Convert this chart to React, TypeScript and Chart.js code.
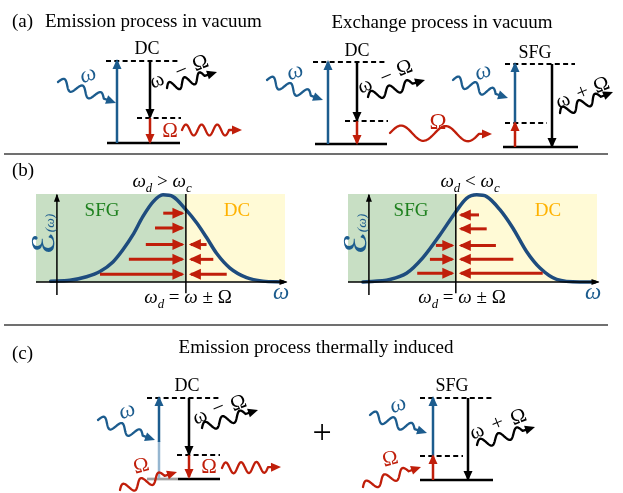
import React, { useEffect, useRef } from 'react';
import { Chart, registerables } from 'chart.js';

Chart.register(...registerables);

const W = 623;
const H = 493;
const SERIF = '"Liberation Serif", "Times New Roman", serif';
const BLUE = 'rgb(28,92,142)';
const RED = 'rgb(192,30,10)';
const BLACK = '#000000';
const NAVY = 'rgb(30,76,126)';
const SEP_GRAY = 'rgb(112,112,112)';
const GREEN_BG = 'rgb(200,223,196)';
const YELLOW_BG = 'rgb(255,250,214)';
const GREEN_TXT = 'rgb(30,128,30)';
const ORANGE_TXT = 'rgb(255,178,0)';
const FADED_BLUE = 'rgb(150,182,208)';
const FADED_GRAY = 'rgb(160,160,160)';
const COL: Record<string, string> = { b: BLUE, k: BLACK, r: RED };

// ---------------- panel (b): spectrum  ℰ(ω) versus ω ----------------
const omegaMin = -0.84;
const omegaMax = 9.16;
const fieldMax = 1.01;
const omegaLeft = [-0.25, 0.52, 1.19, 1.73, 2.25, 2.65, 3.05, 3.45, 3.86, 4.26, 4.66, 5.18, 5.61, 6.01, 6.41, 6.95, 7.62, 8.27, 9.08];
const fieldLeft = [0.01, 0.02, 0.06, 0.12, 0.23, 0.37, 0.54, 0.75, 0.92, 1.0, 0.98, 0.83, 0.68, 0.51, 0.33, 0.16, 0.05, 0.01, 0.0];
const omegaRight = [-0.24, 0.84, 1.51, 2.17, 2.85, 3.45, 3.92, 4.33, 4.73, 5.26, 5.78, 6.33, 6.87, 7.54, 8.47, 9.08];
const fieldRight = [0.0, 0.03, 0.1, 0.28, 0.54, 0.79, 0.96, 1.0, 0.98, 0.83, 0.62, 0.35, 0.16, 0.03, 0.0, 0.0];
const omegaDLeft = 5.18;
const omegaDRight = 3.49;
const arrowRowsLeft = [0.79, 0.62, 0.43, 0.26, 0.09];
const sfgStartsLeft = [4.27, 3.94, 3.57, 2.89, 1.73];
const dcStartsLeft = [null, null, 6.01, 6.28, 6.82];
const arrowRowsRight = [0.77, 0.61, 0.42, 0.26, 0.1];
const sfgStartsRight = [null, null, 2.69, 2.45, 1.94];
const dcStartsRight = [4.42, 4.73, 5.1, 5.8, 6.98];

// ---------------- panels (a), (c): level diagrams ----------------
// [x1, x2, y]
const separators = [[4, 608, 154], [4, 608, 325]];
const virtualLevels = [
  [106, 180, 61], [137, 181, 118],
  [313, 387, 62], [345, 388, 121],
  [505, 575, 64], [505, 547, 123],
  [147, 220, 398], [177, 220, 455],
  [420, 492, 398], [420, 463, 456],
];
const groundLevels = [[107, 180, 143], [315, 387, 144], [503, 578, 147], [178, 220, 479], [420, 493, 480]];
const fadedGround = [[147, 178, 479]];
// [x, yFrom, yTo, colour]
const transitions = [
  [117, 143, 61, 'b'], [150, 61, 117, 'k'], [150, 118, 142, 'r'],
  [328, 144, 62, 'b'], [357, 62, 120, 'k'], [357, 121, 143, 'r'],
  [515, 123, 64, 'b'], [515, 147, 123, 'r'], [552, 64, 146, 'k'],
  [159, 442, 398, 'b'], [189, 398, 454, 'k'], [189, 455, 477, 'r'],
  [433, 456, 398, 'b'], [433, 480, 456, 'r'], [468, 398, 479, 'k'],
];
const fadedTransitions = [[159, 478, 441]];
// photons: [x1, y1, x2, y2, periods, amplitude, colour]
const photons = [
  [58, 82, 116, 103, 2.5, 5, 'b'],
  [167, 88, 217, 72, 2.5, 5, 'k'],
  [182, 130, 242, 130, 3, 5.5, 'r'],
  [267, 80, 323, 100, 2.5, 5, 'b'],
  [368, 97, 425, 80, 2.5, 5, 'k'],
  [390, 133, 492, 134, 2, 7.5, 'r'],
  [453, 80, 508, 98, 2.5, 5, 'b'],
  [560, 113, 613, 92, 2.5, 5, 'k'],
  [98, 420, 155, 440, 2.5, 5, 'b'],
  [202, 428, 258, 410, 2.5, 5, 'k'],
  [222, 468, 281, 467, 3, 5.5, 'r'],
  [120, 490, 177, 472, 2.5, 5, 'r'],
  [370, 415, 427, 433, 2.5, 5, 'b'],
  [477, 445, 535, 427, 2.5, 5, 'k'],
  [363, 487, 421, 467, 2.5, 5, 'r'],
];

type Run = { t: string; it?: boolean; bold?: boolean; sub?: boolean; scale?: number; fam?: string };
type Label = { x: number; y: number; size: number; color: string; runs: Run[]; align?: 'left' | 'center'; rot?: number; center?: boolean };
const R = (t: string, o: Partial<Run> = {}): Run => ({ t, ...o });
const wI = (o: Partial<Run> = {}) => R('ω', { it: true, ...o });

const titleLabels: Label[] = [
  { x: 12, y: 27, size: 19, color: BLACK, runs: [R('(a)')], align: 'left' },
  { x: 45, y: 27, size: 19, color: BLACK, runs: [R('Emission process in vacuum')], align: 'left' },
  { x: 442, y: 28, size: 19, color: BLACK, runs: [R('Exchange process in vacuum')] },
  { x: 12, y: 176, size: 19, color: BLACK, runs: [R('(b)')], align: 'left' },
  { x: 12, y: 359, size: 19, color: BLACK, runs: [R('(c)')], align: 'left' },
  { x: 316, y: 353, size: 19, color: BLACK, runs: [R('Emission process thermally induced')] },
];
const levelLabels: Label[] = [
  { x: 147, y: 54, size: 18, color: BLACK, runs: [R('DC')] },
  { x: 357, y: 56, size: 18, color: BLACK, runs: [R('DC')] },
  { x: 535, y: 58, size: 18, color: BLACK, runs: [R('SFG')] },
  { x: 187, y: 391, size: 18, color: BLACK, runs: [R('DC')] },
  { x: 452, y: 391, size: 18, color: BLACK, runs: [R('SFG')] },
  { x: 322, y: 432, size: 34, color: BLACK, runs: [R('+')], center: true },
];
const photonLabels: Label[] = [
  // incoming pump photons
  ...[[88, 75], [295, 72], [483, 72], [127, 411], [398, 405]].map(([x, y]) => ({ x, y, size: 23, color: BLUE, runs: [wI()], rot: -18, center: true })),
  // outgoing photons ω − Ω / ω + Ω
  ...[
    [157, 81, 'ω'], [181, 70, '−'], [200, 62, 'Ω'],
    [365, 86, 'ω'], [386, 76, '−'], [404, 67, 'Ω'],
    [563, 101, 'ω'], [582, 91, '+'], [601, 84, 'Ω'],
    [200, 417, 'ω'], [218, 407, '−'], [238, 402, 'Ω'],
    [477, 432, 'ω'], [497, 422, '+'], [518, 416, 'Ω'],
  ].map(([x, y, t]) => ({ x: x as number, y: y as number, size: 21, color: BLACK, runs: [R(t as string)], rot: -22, center: true })),
  // Ω photons
  { x: 170, y: 130, size: 21, color: RED, runs: [R('Ω')], center: true },
  { x: 438, y: 121, size: 23, color: RED, runs: [R('Ω')], center: true },
  { x: 209, y: 466, size: 21, color: RED, runs: [R('Ω')], center: true },
  { x: 141, y: 465, size: 21, color: RED, runs: [R('Ω')], rot: -15, center: true },
  { x: 390, y: 458, size: 21, color: RED, runs: [R('Ω')], rot: -15, center: true },
];
const spectrumLabels: Label[] = [
  { x: 162, y: 187, size: 19, color: BLACK, runs: [wI(), R('d', { it: true, sub: true }), R(' > '), wI(), R('c', { it: true, sub: true })] },
  { x: 470, y: 187, size: 19, color: BLACK, runs: [wI(), R('d', { it: true, sub: true }), R(' < '), wI(), R('c', { it: true, sub: true })] },
  { x: 102, y: 216, size: 19, color: GREEN_TXT, runs: [R('SFG')] },
  { x: 237, y: 216, size: 19, color: ORANGE_TXT, runs: [R('DC')] },
  { x: 411, y: 216, size: 19, color: GREEN_TXT, runs: [R('SFG')] },
  { x: 548, y: 216, size: 19, color: ORANGE_TXT, runs: [R('DC')] },
  { x: 281, y: 293, size: 23, color: BLUE, runs: [wI()], center: true },
  { x: 593, y: 293, size: 23, color: BLUE, runs: [wI()], center: true },
  { x: 188, y: 303, size: 19, color: BLACK, runs: [wI(), R('d', { it: true, sub: true }), R(' = '), wI(), R(' ± Ω')] },
  { x: 462, y: 303, size: 19, color: BLACK, runs: [wI(), R('d', { it: true, sub: true }), R(' = '), wI(), R(' ± Ω')] },
  ...[43, 355].map((x) => ({ x, y: 234, size: 30, color: BLUE, rot: -90, center: true, runs: [R('ℰ', { bold: true, fam: '"DejaVu Serif", "DejaVu Sans", serif' }), R('(ω)', { it: true, scale: 0.45 })] })),
];

// ---------------- helpers ----------------
function drawHead(ctx: CanvasRenderingContext2D, x1: number, y1: number, x2: number, y2: number, len: number, wid: number, ext: number, color: string) {
  const a = Math.atan2(y2 - y1, x2 - x1);
  ctx.save();
  ctx.translate(x2, y2);
  ctx.rotate(a);
  ctx.beginPath();
  ctx.moveTo(ext, 0);
  ctx.lineTo(ext - len, wid / 2);
  ctx.lineTo(ext - len, -wid / 2);
  ctx.closePath();
  ctx.fillStyle = color;
  ctx.fill();
  ctx.restore();
}

const arrowHeadPlugin = {
  id: 'arrowHeads',
  afterDatasetsDraw(chart: any) {
    const ctx = chart.ctx;
    chart.data.datasets.forEach((ds: any, i: number) => {
      if (!ds.head) return;
      const pts = chart.getDatasetMeta(i).data;
      const n = pts.length;
      const p1 = pts[n - 2];
      const p2 = pts[n - 1];
      drawHead(ctx, p1.x, p1.y, p2.x, p2.y, ds.head[0], ds.head[1], ds.head[2], ds.borderColor);
    });
  },
};

function drawWave(ctx: CanvasRenderingContext2D, x1: number, y1: number, x2: number, y2: number, periods: number, amp: number, color: string) {
  const dx = x2 - x1;
  const dy = y2 - y1;
  const L = Math.hypot(dx, dy);
  const ux = dx / L;
  const uy = dy / L;
  const nx = uy;
  const ny = -ux;
  const headLen = 9;
  const lead = 4;
  const waveLen = L - headLen - lead;
  ctx.save();
  ctx.strokeStyle = color;
  ctx.lineWidth = 2.3;
  ctx.lineJoin = 'round';
  ctx.lineCap = 'round';
  ctx.beginPath();
  const N = 90;
  for (let i = 0; i <= N; i++) {
    const s = (i / N) * waveLen;
    const o = amp * Math.sin(2 * Math.PI * periods * (i / N));
    const px = x1 + ux * s + nx * o;
    const py = y1 + uy * s + ny * o;
    if (i === 0) ctx.moveTo(px, py);
    else ctx.lineTo(px, py);
  }
  ctx.lineTo(x1 + ux * (L - headLen + 1), y1 + uy * (L - headLen + 1));
  ctx.stroke();
  ctx.restore();
  drawHead(ctx, x1, y1, x2, y2, headLen + 1, 9, 0, color);
}

const wavePlugin = {
  id: 'photons',
  afterDatasetsDraw(chart: any) {
    const xs = chart.scales.x;
    const ys = chart.scales.y;
    photons.forEach(([x1, y1, x2, y2, p, a, c]) => {
      drawWave(chart.ctx, xs.getPixelForValue(x1), ys.getPixelForValue(y1), xs.getPixelForValue(x2), ys.getPixelForValue(y2), p as number, a as number, COL[c as string]);
    });
  },
};

function drawLabel(ctx: CanvasRenderingContext2D, L: Label, px: number, py: number) {
  ctx.save();
  ctx.translate(px, py);
  if (L.rot) ctx.rotate((L.rot * Math.PI) / 180);
  ctx.fillStyle = L.color;
  ctx.textBaseline = 'alphabetic';
  const fontOf = (r: Run) => `${r.it ? 'italic ' : ''}${r.bold ? 'bold ' : ''}${(L.size * (r.sub ? 0.68 : r.scale || 1)).toFixed(1)}px ${r.fam || SERIF}`;
  const widths = L.runs.map((r) => {
    ctx.font = fontOf(r);
    return ctx.measureText(r.t).width;
  });
  const total = widths.reduce((a, b) => a + b, 0);
  let x = L.align === 'left' ? 0 : -total / 2;
  let dy = 0;
  if (L.center) {
    ctx.font = fontOf(L.runs[0]);
    const m = ctx.measureText(L.runs[0].t);
    dy = (m.actualBoundingBoxAscent - m.actualBoundingBoxDescent) / 2;
  }
  L.runs.forEach((r, i) => {
    ctx.font = fontOf(r);
    ctx.fillText(r.t, x, dy + (r.sub ? L.size * 0.24 : 0));
    x += widths[i];
  });
  ctx.restore();
}

const textPlugin = {
  id: 'texts',
  afterDraw(chart: any) {
    const xs = chart.scales.x;
    const ys = chart.scales.y;
    [...titleLabels, ...levelLabels, ...photonLabels, ...spectrumLabels].forEach((L) => {
      drawLabel(chart.ctx, L, xs.getPixelForValue(L.x), ys.getPixelForValue(L.y));
    });
  },
};

const seg = (pts: number[][], color: string, width: number, extra: any = {}) => ({
  data: pts.map(([x, y]) => ({ x, y })),
  borderColor: color,
  backgroundColor: color,
  borderWidth: width,
  borderCapStyle: 'butt',
  pointRadius: 0,
  pointHoverRadius: 0,
  showLine: true,
  fill: false,
  clip: false,
  tension: 0,
  ...extra,
});

function mainConfig(): any {
  const datasets = [
    ...transitions.map(([x, f, t, c]) => seg([[x as number, f as number], [x as number, t as number]], COL[c as string], 2.5, { head: [10, 9, 2] })),
    ...fadedTransitions.map(([x, f, t]) => seg([[x, f], [x, t]], FADED_BLUE, 2.5)),
    ...groundLevels.map(([a, b, y]) => seg([[a, y], [b, y]], BLACK, 2.7)),
    ...fadedGround.map(([a, b, y]) => seg([[a, y], [b, y]], FADED_GRAY, 2.7)),
    ...virtualLevels.map(([a, b, y]) => seg([[a, y], [b, y]], BLACK, 2, { borderDash: [5, 3.3] })),
    ...separators.map(([a, b, y]) => seg([[a, y], [b, y]], SEP_GRAY, 2)),
  ];
  return {
    type: 'scatter',
    data: { datasets },
    options: {
      animation: false,
      responsive: false,
      events: [],
      layout: { padding: 0 },
      plugins: { legend: { display: false }, tooltip: { enabled: false }, title: { display: false } },
      scales: {
        x: { type: 'linear', min: 0, max: W, display: false },
        y: { type: 'linear', min: 0, max: H, reverse: true, display: false },
      },
    },
    plugins: [arrowHeadPlugin, wavePlugin, textPlugin],
  };
}

function plotConfig(omega: number[], field: number[], omegaD: number, rows: number[], sfgStarts: (number | null)[], dcStarts: (number | null)[]): any {
  const datasets: any[] = [];
  rows.forEach((v, i) => {
    const s = sfgStarts[i];
    const d = dcStarts[i];
    if (s != null) datasets.push(seg([[s, v], [omegaD - 0.14, v]], RED, 3, { head: [12, 11, 2], order: 0 }));
    if (d != null) datasets.push(seg([[d, v], [omegaD + 0.2, v]], RED, 3, { head: [12, 11, 2], order: 0 }));
  });
  datasets.push(seg([[omegaD, fieldMax], [omegaD, -0.13]], BLACK, 1.5, { order: 1 }));
  datasets.push(seg([[omegaMin, 0], [9.22, 0]], BLACK, 1.5, { head: [8, 6, 1], order: 1 }));
  datasets.push(seg([[0, -0.15], [0, 1.0]], BLACK, 1.5, { head: [8, 6, 1], order: 1 }));
  datasets.push({
    ...seg(omega.map((w, i) => [w, field[i]]), NAVY, 3.5, { order: 2 }),
    cubicInterpolationMode: 'monotone',
    borderCapStyle: 'round',
  });
  datasets.push(seg([[omegaMin, fieldMax], [omegaD, fieldMax]], GREEN_BG, 0, { fill: 'origin', clip: 0, order: 9 }));
  datasets.push(seg([[omegaD, fieldMax], [omegaMax, fieldMax]], YELLOW_BG, 0, { fill: 'origin', clip: 0, order: 9 }));
  return {
    type: 'scatter',
    data: { datasets },
    options: {
      animation: false,
      responsive: false,
      events: [],
      layout: { padding: { left: 16, right: 15, top: 24, bottom: 33 } },
      plugins: { legend: { display: false }, tooltip: { enabled: false }, title: { display: false } },
      scales: {
        x: { type: 'linear', min: omegaMin, max: omegaMax, display: false },
        y: { type: 'linear', min: 0, max: fieldMax, display: false },
      },
    },
    plugins: [arrowHeadPlugin],
  };
}

export default function App() {
  const mainRef = useRef<HTMLCanvasElement>(null);
  const leftRef = useRef<HTMLCanvasElement>(null);
  const rightRef = useRef<HTMLCanvasElement>(null);

  useEffect(() => {
    const charts = [
      new Chart(leftRef.current as HTMLCanvasElement, plotConfig(omegaLeft, fieldLeft, omegaDLeft, arrowRowsLeft, sfgStartsLeft, dcStartsLeft)),
      new Chart(rightRef.current as HTMLCanvasElement, plotConfig(omegaRight, fieldRight, omegaDRight, arrowRowsRight, sfgStartsRight, dcStartsRight)),
      new Chart(mainRef.current as HTMLCanvasElement, mainConfig()),
    ];
    return () => charts.forEach((c) => c.destroy());
  }, []);

  const abs = (l: number, t: number, w: number, h: number): React.CSSProperties => ({ position: 'absolute', left: l, top: t, width: w, height: h });
  return (
    <div style={{ ...abs(0, 0, W, H), background: '#ffffff', overflow: 'hidden' }}>
      <canvas ref={leftRef} width={280} height={145} style={abs(20, 170, 280, 145)} />
      <canvas ref={rightRef} width={280} height={145} style={abs(332, 170, 280, 145)} />
      <canvas ref={mainRef} width={W} height={H} style={abs(0, 0, W, H)} />
    </div>
  );
}
